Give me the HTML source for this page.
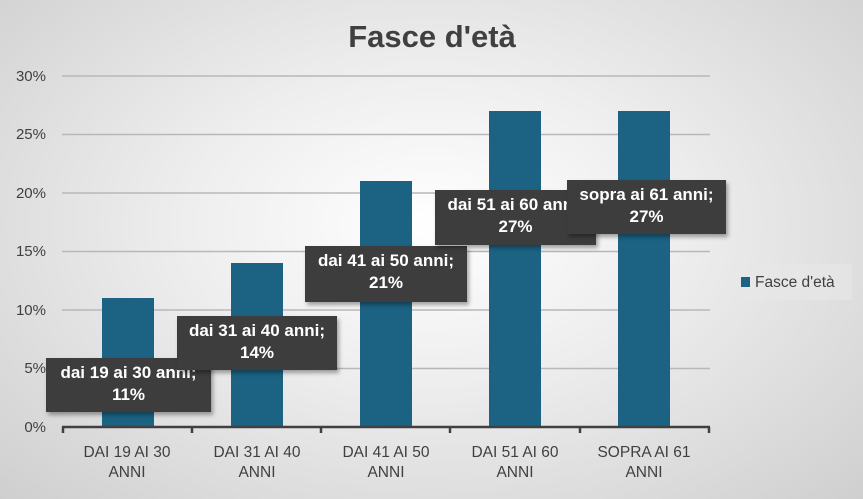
<!DOCTYPE html>
<html><head><meta charset="utf-8"><style>
html,body{margin:0;padding:0;}
body{width:863px;height:499px;overflow:hidden;font-family:"Liberation Sans",Arial,sans-serif;
background:radial-gradient(ellipse at 50% 45%,#ffffff 0%,#eeeeee 40%,#cfcfcf 100%);position:relative;}
.lbl{position:absolute;background:#3d3d3d;color:#fff;font-weight:bold;font-size:17px;line-height:22px;text-align:center;box-shadow:2px 3px 4px rgba(0,0,0,0.35);overflow:hidden;white-space:nowrap;padding-top:4px;box-sizing:border-box;}
</style></head><body>
<svg width="863" height="499" style="position:absolute;left:0;top:0">
<text x="432" y="47" text-anchor="middle" font-size="31" font-weight="bold" fill="#404040" font-family="Liberation Sans,Arial,sans-serif">Fasce d'età</text>
<g stroke="#b8b8b8" stroke-width="1.5">
<line x1="62" x2="710" y1="76" y2="76"/><line x1="62" x2="710" y1="134.5" y2="134.5"/>
<line x1="62" x2="710" y1="193" y2="193"/><line x1="62" x2="710" y1="251.5" y2="251.5"/>
<line x1="62" x2="710" y1="310" y2="310"/><line x1="62" x2="710" y1="368.5" y2="368.5"/>
</g>
<g fill="#1b6283">
<rect x="102" y="298" width="52" height="129"/>
<rect x="231" y="263" width="52" height="164"/>
<rect x="360" y="181" width="52" height="246"/>
<rect x="489" y="111" width="52" height="316"/>
<rect x="618" y="111" width="52" height="316"/>
</g>
<g stroke="#404040" stroke-width="2.5">
<line x1="62" x2="710" y1="427" y2="427"/>
<line x1="63" x2="63" y1="427" y2="433"/><line x1="192" x2="192" y1="427" y2="433"/>
<line x1="321" x2="321" y1="427" y2="433"/><line x1="450" x2="450" y1="427" y2="433"/>
<line x1="580" x2="580" y1="427" y2="433"/><line x1="709" x2="709" y1="427" y2="433"/>
</g>
<g font-size="15" fill="#404040" text-anchor="end" font-family="Liberation Sans,Arial,sans-serif">
<text x="46" y="81">30%</text><text x="46" y="139">25%</text><text x="46" y="198">20%</text>
<text x="46" y="256">15%</text><text x="46" y="315">10%</text><text x="46" y="373">5%</text><text x="46" y="432">0%</text>
</g>
<g font-size="15.5" fill="#404040" text-anchor="middle" font-family="Liberation Sans,Arial,sans-serif">
<text x="127" y="457">DAI 19 AI 30</text><text x="127" y="477">ANNI</text>
<text x="257" y="457">DAI 31 AI 40</text><text x="257" y="477">ANNI</text>
<text x="386" y="457">DAI 41 AI 50</text><text x="386" y="477">ANNI</text>
<text x="515" y="457">DAI 51 AI 60</text><text x="515" y="477">ANNI</text>
<text x="644" y="457">SOPRA AI 61</text><text x="644" y="477">ANNI</text>
</g>
<rect x="731" y="264" width="121" height="36" fill="#e8e8e8" opacity="0.6"/>
<rect x="741" y="277" width="9" height="10" fill="#1b6283"/>
<text x="755" y="287" font-size="15.5" fill="#404040" font-family="Liberation Sans,Arial,sans-serif">Fasce d'età</text>
</svg>
<div class="lbl" style="left:46px;top:358px;width:165px;height:54px">dai 19 ai 30 anni;<br>11%</div>
<div class="lbl" style="left:177px;top:316px;width:160px;height:54px">dai 31 ai 40 anni;<br>14%</div>
<div class="lbl" style="left:305px;top:246px;width:162px;height:56px">dai 41 ai 50 anni;<br>21%</div>
<div class="lbl" style="left:435px;top:190px;width:161px;height:55px">dai 51 ai 60 anni;<br>27%</div>
<div class="lbl" style="left:567px;top:180px;width:159px;height:54px">sopra ai 61 anni;<br>27%</div>
</body></html>
